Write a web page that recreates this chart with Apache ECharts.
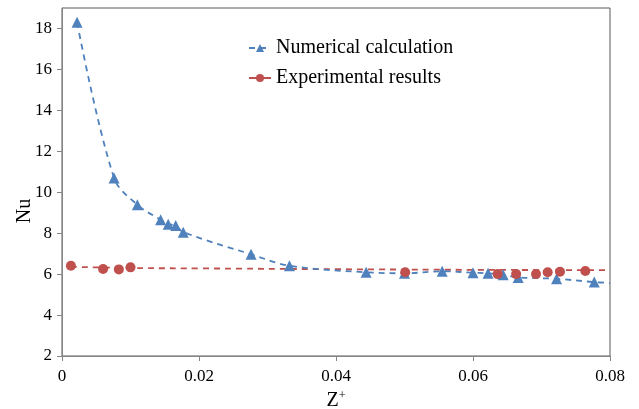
<!DOCTYPE html>
<html>
<head>
<meta charset="utf-8" />
<title>Nu vs Z+</title>
<script src="https://cdn.jsdelivr.net/npm/echarts@6/dist/echarts.min.js"></script>
<style>
  html, body { margin: 0; padding: 0; background: #fff; }
  #chart { width: 639px; height: 409px; }
</style>
</head>
<body>
<div id="chart"></div>
<script>
// numerical calculation (triangles)
var numX = [0.0022, 0.0076, 0.0110, 0.0144, 0.0155, 0.0166, 0.0177, 0.0276, 0.0332, 0.0444,
            0.0500, 0.0555, 0.0600, 0.0622, 0.0644, 0.0666, 0.0722, 0.0777];
var numY = [18.3, 10.7, 9.39, 8.65, 8.44, 8.37, 8.05, 6.97, 6.41, 6.09,
            6.04, 6.14, 6.07, 6.04, 5.97, 5.84, 5.77, 5.61];
// the dashed curve runs on to the right edge
var numEnd = [0.08, 5.57];

// experimental results (circles)
var expX = [0.0013, 0.0060, 0.0083, 0.0100, 0.0501, 0.0636, 0.0663, 0.0692, 0.0709, 0.0727, 0.0764];
var expY = [6.41, 6.25, 6.23, 6.33, 6.09, 6.00, 6.00, 6.00, 6.09, 6.12, 6.15];
// trend line
var trendX = [0.0013, 0.01, 0.02, 0.04, 0.06, 0.08];
var trendY = [6.36, 6.30, 6.28, 6.24, 6.21, 6.19];

var xTicks = [0, 0.02, 0.04, 0.06, 0.08];
var yTicks = [2, 4, 6, 8, 10, 12, 14, 16, 18];

function pairs(xs, ys) {
    return xs.map(function (x, i) { return [x, ys[i]]; });
}

var blue = '#4F81BD';
var red = '#C0504D';
var font = 'Liberation Serif';

var numData = pairs(numX, numY);
numData.push({ value: numEnd, symbol: 'none' });

var chart = echarts.init(document.getElementById('chart'));
chart.setOption({
    animation: false,
    textStyle: { fontFamily: font },
    grid: {
        left: 62, right: 29, top: 8, bottom: 53,
        outerBoundsMode: 'none',
        containLabel: false,
        show: true, borderColor: '#595959', borderWidth: 1
    },
    // y axis title, placed like the original (a little below the middle)
    graphic: [{
        type: 'text',
        x: 25, y: 211,
        rotation: Math.PI / 2,
        style: {
            text: 'Nu', fill: '#000',
            font: '20px "Liberation Serif"',
            align: 'center', verticalAlign: 'middle'
        }
    }],
    legend: {
        orient: 'vertical',
        left: 243, top: 33,
        itemWidth: 22, itemHeight: 10, itemGap: 10,
        textStyle: { fontFamily: font, fontSize: 20, color: '#000' },
        data: [
            { name: 'Numerical calculation' },
            { name: 'Experimental results',
              lineStyle: { color: red, width: 2, type: 'solid', opacity: 1 } }
        ]
    },
    xAxis: {
        type: 'value',
        min: 0, max: 0.08, interval: 0.02,
        name: 'Z{s|+}',
        nameLocation: 'middle',
        nameGap: 33,
        nameTextStyle: {
            fontFamily: font, fontSize: 20, color: '#000',
            rich: { s: { fontFamily: font, fontSize: 12, color: '#000', verticalAlign: 'top', padding: [0, 0, 9, 0] } }
        },
        splitLine: { show: false },
        axisLine: { lineStyle: { color: '#868686' } },
        axisTick: { show: true, length: 5, lineStyle: { color: '#868686' } },
        axisLabel: {
            fontFamily: font, fontSize: 17, color: '#000', margin: 12,
            formatter: function (v) {
                return xTicks.indexOf(Math.round(v * 100) / 100) >= 0 ? String(Math.round(v * 100) / 100) : '';
            }
        }
    },
    yAxis: {
        type: 'value',
        min: 2, max: 19, interval: 2,
        splitLine: { show: false },
        axisLine: { show: true, lineStyle: { color: '#868686' } },
        axisTick: { show: true, length: 5, lineStyle: { color: '#868686' } },
        axisLabel: {
            fontFamily: font, fontSize: 17, color: '#000', margin: 10,
            showMaxLabel: false,
            formatter: function (v) { return yTicks.indexOf(v) >= 0 ? String(v) : ''; }
        }
    },
    series: [
        {
            name: 'Experimental trend',
            type: 'line',
            data: pairs(trendX, trendY),
            smooth: true,
            symbol: 'none',
            lineStyle: { color: red, width: 1.8, type: [6, 5] },
            silent: true,
            z: 2
        },
        {
            name: 'Numerical calculation',
            type: 'line',
            data: numData,
            smooth: 0.35,
            symbol: 'triangle',
            symbolSize: 11,
            showAllSymbol: true,
            itemStyle: { color: blue },
            lineStyle: { color: blue, width: 1.8, type: [6, 5] },
            z: 3
        },
        {
            name: 'Experimental results',
            type: 'line',
            data: pairs(expX, expY),
            symbol: 'circle',
            symbolSize: 10,
            showAllSymbol: true,
            itemStyle: { color: red },
            lineStyle: { color: red, width: 0, opacity: 0 },
            z: 4
        }
    ]
});
</script>
</body>
</html>
